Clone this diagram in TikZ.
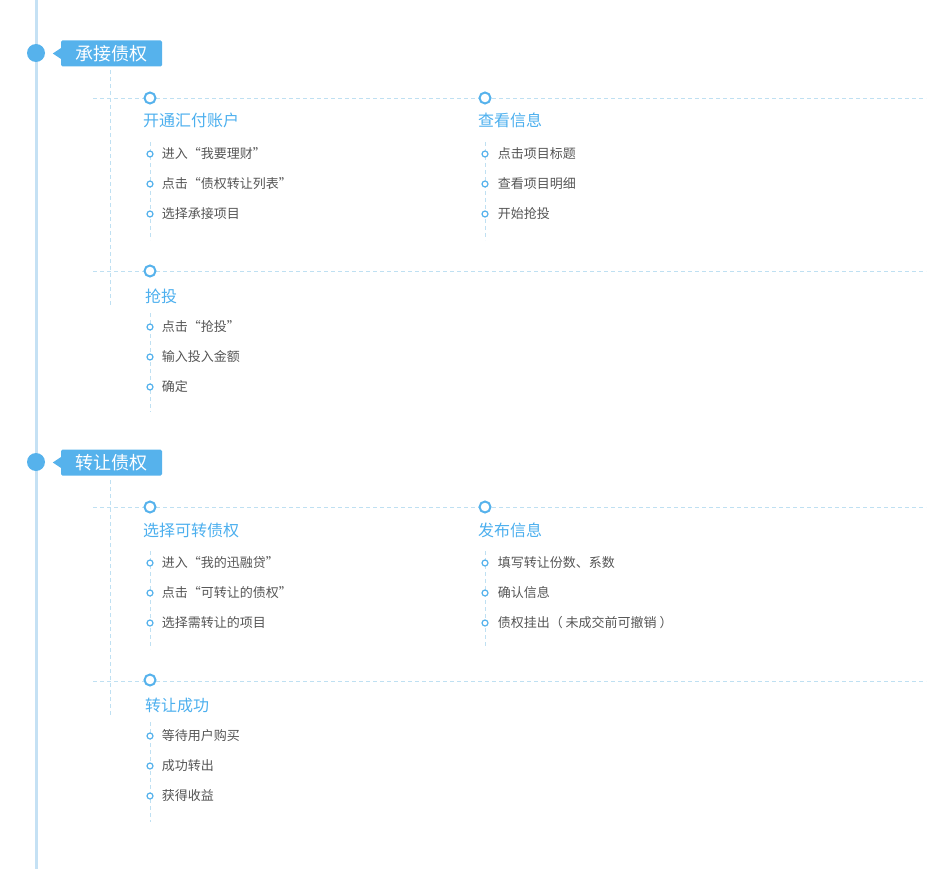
\documentclass[tikz,border=0pt]{standalone}
\usepackage{fontspec}
\setmainfont{Noto Sans CJK SC}
\usetikzlibrary{positioning}
\definecolor{mainline}{HTML}{C5E1F4}
\definecolor{tagblue}{HTML}{56B2EC}
\definecolor{titleblue}{HTML}{4CAFEE}
\definecolor{guideblue}{HTML}{BFE0F2}
\definecolor{itemgray}{HTML}{555555}
% full-width quotes
\newcommand{\oq}{\makebox[1em][r]{“}}
\newcommand{\cq}{\makebox[1em][l]{”}}

\begin{document}
\begin{tikzpicture}
    [x=1pt,y=-1pt,
    bigdot/.style={circle, fill=tagblue, minimum size=18pt, inner sep=0pt},
    tag/.style={
      rectangle, rounded corners=1.5pt,
      fill=tagblue, text=white,
      minimum width=101pt, minimum height=26pt, inner sep=0pt,
      font=\fontsize{18}{18}\selectfont
      },
    guide/.style={draw=guideblue, line width=0.8pt, dash pattern=on 4pt off 3pt},
    stepdot/.style={circle, draw=tagblue, line width=2pt, fill=white, minimum size=11pt, inner sep=0pt},
    steptitle/.style={anchor=west, inner sep=0pt, text=titleblue,
      text height=13pt, text depth=1pt, font=\fontsize{16}{16}\selectfont},
    itemdot/.style={circle, draw=tagblue, line width=1.2pt, fill=white,
      minimum size=6pt, inner sep=0pt, node distance=30pt},
    itemtext/.style={anchor=west, inner sep=0pt, text=itemgray,
      text height=10.5pt, text depth=1pt, font=\fontsize{13}{13}\selectfont}]

    \useasboundingbox (0,0) rectangle (950,869);

    % main line
    \coordinate (top) at (36,0); \coordinate (bottom) at (36,869);
    \draw[mainline, line width=3pt] (top) -- (bottom);

    % guide lines, section 1
    \coordinate (v1a) at (110,70);   \coordinate (v1b) at (110,305);
    \coordinate (h11a) at (93,98);   \coordinate (h11b) at (926,98);
    \coordinate (h12a) at (93,271);  \coordinate (h12b) at (926,271);
    \coordinate (l11a) at (150,142); \coordinate (l11b) at (150,240);
    \coordinate (l12a) at (485,142); \coordinate (l12b) at (485,240);
    \coordinate (l13a) at (150,313); \coordinate (l13b) at (150,412);
    \draw[guide] (v1a) -- (v1b);
    \draw[guide] (h11a) -- (h11b); \draw[guide] (h12a) -- (h12b);
    \draw[guide] (l11a) -- (l11b); \draw[guide] (l12a) -- (l12b); \draw[guide] (l13a) -- (l13b);

    % guide lines, section 2
    \coordinate (v2a) at (110,480);  \coordinate (v2b) at (110,715);
    \coordinate (h21a) at (93,507);  \coordinate (h21b) at (926,507);
    \coordinate (h22a) at (93,681);  \coordinate (h22b) at (926,681);
    \coordinate (l21a) at (150,551); \coordinate (l21b) at (150,649);
    \coordinate (l22a) at (485,551); \coordinate (l22b) at (485,649);
    \coordinate (l23a) at (150,722); \coordinate (l23b) at (150,822);
    \draw[guide] (v2a) -- (v2b);
    \draw[guide] (h21a) -- (h21b); \draw[guide] (h22a) -- (h22b);
    \draw[guide] (l21a) -- (l21b); \draw[guide] (l22a) -- (l22b); \draw[guide] (l23a) -- (l23b);

    % section 1
    \node (dot1) [bigdot] at (36,53) {};
    \node (tag1) [tag] at (111.5,53.5) {承接债权};
    \fill[tagblue] (tag1.west) ++(1,-6) -- ++(-9,6) -- ++(9,6) -- cycle;

    \node (s11) [stepdot] at (150,98) {};  \node (t11) [steptitle] at (143,121) {开通汇付账户};
    \node (s12) [stepdot] at (485,98) {};  \node (t12) [steptitle] at (478,121) {查看信息};
    \node (s13) [stepdot] at (150,271) {}; \node (t13) [steptitle] at (145,296) {抢投};

    \node (i111) [itemdot, below of=s11, node distance=56pt] {}; \node (x111) [itemtext, right=8pt of i111] {进入\oq 我要理财\cq};
    \node (i112) [itemdot, below of=i111] {};                    \node (x112) [itemtext, right=8pt of i112] {点击\oq 债权转让列表\cq};
    \node (i113) [itemdot, below of=i112] {};                    \node (x113) [itemtext, right=8pt of i113] {选择承接项目};

    \node (i121) [itemdot, below of=s12, node distance=56pt] {}; \node (x121) [itemtext, right=9pt of i121] {点击项目标题};
    \node (i122) [itemdot, below of=i121] {};                    \node (x122) [itemtext, right=9pt of i122] {查看项目明细};
    \node (i123) [itemdot, below of=i122] {};                    \node (x123) [itemtext, right=9pt of i123] {开始抢投};

    \node (i131) [itemdot, below of=s13, node distance=56pt] {}; \node (x131) [itemtext, right=8pt of i131] {点击\oq 抢投\cq};
    \node (i132) [itemdot, below of=i131] {};                    \node (x132) [itemtext, right=8pt of i132] {输入投入金额};
    \node (i133) [itemdot, below of=i132] {};                    \node (x133) [itemtext, right=8pt of i133] {确定};

    % section 2
    \node (dot2) [bigdot] at (36,462) {};
    \node (tag2) [tag] at (111.5,462.5) {转让债权};
    \fill[tagblue] (tag2.west) ++(1,-6) -- ++(-9,6) -- ++(9,6) -- cycle;

    \node (s21) [stepdot] at (150,507) {}; \node (t21) [steptitle] at (143,530) {选择可转债权};
    \node (s22) [stepdot] at (485,507) {}; \node (t22) [steptitle] at (478,530) {发布信息};
    \node (s23) [stepdot] at (150,680) {}; \node (t23) [steptitle] at (145,705) {转让成功};

    \node (i211) [itemdot, below of=s21, node distance=56pt] {}; \node (x211) [itemtext, right=8pt of i211] {进入\oq 我的迅融贷\cq};
    \node (i212) [itemdot, below of=i211] {};                    \node (x212) [itemtext, right=8pt of i212] {点击\oq 可转让的债权\cq};
    \node (i213) [itemdot, below of=i212] {};                    \node (x213) [itemtext, right=8pt of i213] {选择需转让的项目};

    \node (i221) [itemdot, below of=s22, node distance=56pt] {}; \node (x221) [itemtext, right=9pt of i221] {填写转让份数、系数};
    \node (i222) [itemdot, below of=i221] {};                    \node (x222) [itemtext, right=9pt of i222] {确认信息};
    \node (i223) [itemdot, below of=i222] {};                    \node (x223) [itemtext, right=9pt of i223] {债权挂出（ 未成交前可撤销 ）};

    \node (i231) [itemdot, below of=s23, node distance=56pt] {}; \node (x231) [itemtext, right=8pt of i231] {等待用户购买};
    \node (i232) [itemdot, below of=i231] {};                    \node (x232) [itemtext, right=8pt of i232] {成功转出};
    \node (i233) [itemdot, below of=i232] {};                    \node (x233) [itemtext, right=8pt of i233] {获得收益};

  \end{tikzpicture}
\end{document}
